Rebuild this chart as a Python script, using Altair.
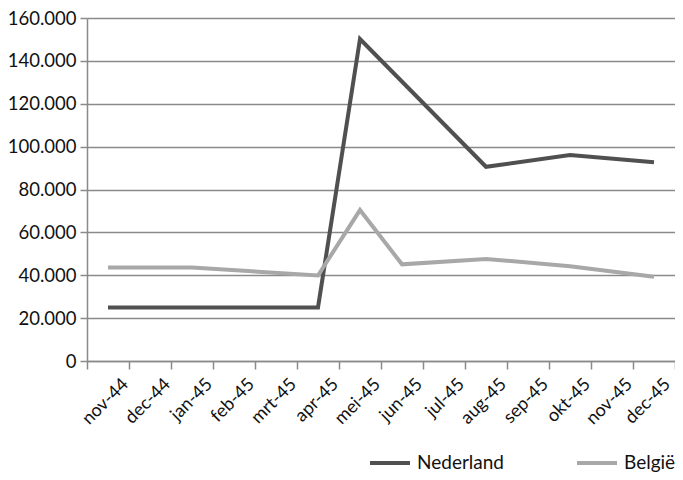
import altair as alt
import pandas as pd

months = ["nov-44", "dec-44", "jan-45", "feb-45", "mrt-45", "apr-45", "mei-45",
          "jun-45", "jul-45", "aug-45", "sep-45", "okt-45", "nov-45", "dec-45"]
nederland = [25000, 25000, 25000, 25000, 25000, 25000, 150200,
             None, None, 90600, None, 96100, None, 92700]
belgie = [43600, None, 43600, None, None, 39900, 70400,
          45100, None, 47600, None, 44200, None, 39300]
series = ["Nederland", "België"]
colors = ["#505050", "#a8a8a8"]

rows = []
for i, m in enumerate(months):
    rows.append({"maand": m, "land": series[0], "waarde": nederland[i]})
    rows.append({"maand": m, "land": series[1], "waarde": belgie[i]})
df = pd.DataFrame(rows)

FONT = "Lato"

chart = alt.Chart(df).transform_filter(
    "isValid(datum.waarde) && isFinite(datum.waarde)"
).mark_line(strokeWidth=4).encode(
    x=alt.X("maand:N", sort=months,
            scale=alt.Scale(type="band", domain=months,
                            paddingInner=0, paddingOuter=0),
            axis=alt.Axis(title=None, tickBand="extent", labelAngle=-45,
                          labelAlign="right", labelBaseline="top",
                          labelOffset={"condition": {"test": "datum.value === 'dec-45'",
                                                     "value": 7},
                                       "value": 11},
                          labelPadding=6, tickSize=8,
                          labelFontSize=18, labelFont=FONT, labelColor="#111",
                          domainColor="#8a8a8a", tickColor="#8a8a8a",
                          domainWidth=1.5, tickWidth=1.5, grid=False)),
    y=alt.Y("waarde:Q",
            scale=alt.Scale(domain=[0, 160000], nice=False),
            axis=alt.Axis(title=None, values=list(range(0, 160001, 20000)),
                          labelExpr="replace(format(datum.value, ','), regexp(',', 'g'), '.')",
                          tickSize=7, labelPadding=4, labelFontSize=18.5,
                          labelFont=FONT, labelColor="#111",
                          domainColor="#8a8a8a", tickColor="#8a8a8a",
                          gridColor="#8a8a8a", gridWidth=1.5,
                          domainWidth=1.5, tickWidth=1.5)),
    color=alt.Color("land:N",
                    scale=alt.Scale(domain=series, range=colors),
                    legend=alt.Legend(title=None, orient="none", legendX=281,
                                      legendY=423, direction="horizontal",
                                      symbolType="stroke", symbolSize=1600,
                                      symbolStrokeWidth=4, labelFontSize=19,
                                      labelFont=FONT, labelColor="#111",
                                      labelOffset=5, columnPadding=64)),
).properties(
    width=588, height=343,
    autosize=alt.AutoSizeParams(type="none"),
    padding={"left": 79, "top": 10, "right": 0, "bottom": 111},
).configure_view(stroke=None)

chart.save("out.html", embed_options={"renderer": "svg", "actions": False})
